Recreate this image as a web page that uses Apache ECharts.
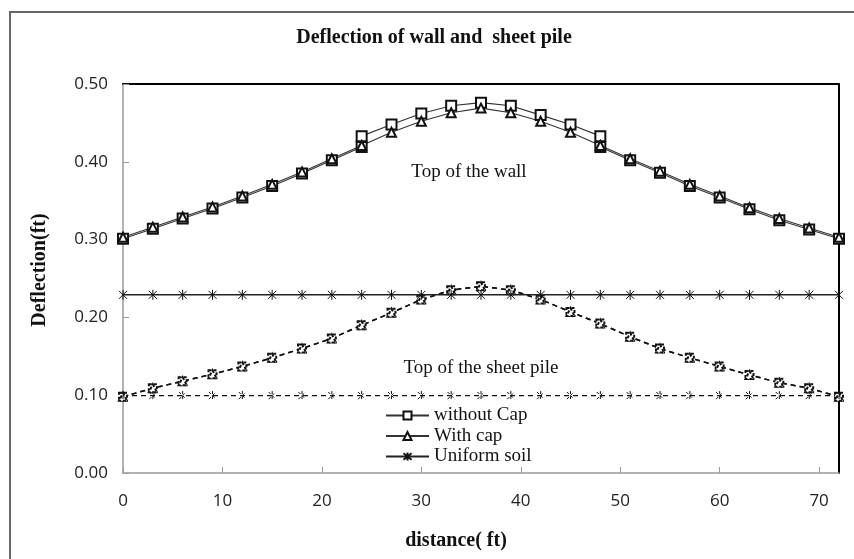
<!DOCTYPE html>
<html>
<head>
<meta charset="utf-8">
<script src="https://cdn.jsdelivr.net/npm/echarts@6/dist/echarts.min.js"></script>
<style>
  html, body { margin: 0; padding: 0; background: #fff; }
  #chart { width: 854px; height: 559px; }
</style>
</head>
<body>
<div id="chart"></div>
<script>
// Distance along the wall (ft)
const distance = [0, 3, 6, 9, 12, 15, 18, 21, 24, 27, 30, 33, 36, 39, 42, 45, 48, 51, 54, 57, 60, 63, 66, 69, 72];

// Top of the wall, without cap (two readings at 24 ft and 48 ft)
const wallNoCapDistance = [0, 3, 6, 9, 12, 15, 18, 21, 24, 24, 27, 30, 33, 36, 39, 42, 45, 48, 48, 51, 54, 57, 60, 63, 66, 69, 72];
const wallNoCap = [0.301, 0.314, 0.327, 0.340, 0.354, 0.369, 0.385, 0.402, 0.419, 0.433, 0.448, 0.462, 0.472, 0.476, 0.472, 0.460, 0.448, 0.433, 0.419, 0.402, 0.386, 0.369, 0.354, 0.339, 0.325, 0.313, 0.301];

// Top of the wall, with cap
const wallWithCap = [0.303, 0.316, 0.329, 0.342, 0.356, 0.371, 0.387, 0.404, 0.421, 0.438, 0.452, 0.463, 0.469, 0.463, 0.452, 0.438, 0.421, 0.404, 0.388, 0.371, 0.356, 0.341, 0.327, 0.315, 0.303];

// Top of the wall, uniform soil
const wallUniform = [0.229, 0.229, 0.229, 0.229, 0.229, 0.229, 0.229, 0.229, 0.229, 0.229, 0.229, 0.229, 0.229, 0.229, 0.229, 0.229, 0.229, 0.229, 0.229, 0.229, 0.229, 0.229, 0.229, 0.229, 0.229];

// Top of the sheet pile
const pileNoCap = [0.098, 0.109, 0.118, 0.127, 0.137, 0.148, 0.160, 0.173, 0.190, 0.206, 0.223, 0.235, 0.240, 0.235, 0.223, 0.207, 0.192, 0.175, 0.160, 0.148, 0.137, 0.126, 0.116, 0.109, 0.098];
const pileWithCap = [0.098, 0.109, 0.118, 0.127, 0.137, 0.148, 0.160, 0.173, 0.190, 0.206, 0.223, 0.235, 0.240, 0.235, 0.223, 0.207, 0.192, 0.175, 0.160, 0.148, 0.137, 0.126, 0.116, 0.109, 0.098];
const pileUniform = [0.0995, 0.0995, 0.0995, 0.0995, 0.0995, 0.0995, 0.0995, 0.0995, 0.0995, 0.0995, 0.0995, 0.0995, 0.0995, 0.0995, 0.0995, 0.0995, 0.0995, 0.0995, 0.0995, 0.0995, 0.0995, 0.0995, 0.0995, 0.0995, 0.0995];

const legendNames = ['without Cap', 'With cap', 'Uniform soil'];
const yTicks = { min: 0, max: 0.5, interval: 0.1 };
const xTicks = { min: 0, max: 72, interval: 10 };

const pairs = (xs, ys) => xs.map((x, i) => [x, ys[i]]);

const SERIF = '"Liberation Serif", "Times New Roman", serif';
const SANS = '"Open Sans", "DejaVu Sans", sans-serif';
const STAR = 'path://M5,0 L5,10 M1,1 L9,9 M1,9 L9,1';

function solid(name, data, symbol, size, color, width) {
  return {
    name, type: 'line', data, symbol, symbolSize: size, symbolKeepAspect: true,
    showSymbol: true, silent: true,
    lineStyle: { color, width, type: 'solid' },
    itemStyle: { color: '#111', borderColor: '#111', borderWidth: 1 },
    z: 3
  };
}
function dashed(name, data, symbol, size, width) {
  return {
    name, type: 'line', data, symbol, symbolSize: size, symbolKeepAspect: true,
    showSymbol: true, silent: true,
    lineStyle: { color: '#111', width, type: [5, 4] },
    itemStyle: { color: '#111', borderColor: '#111', borderWidth: 1, borderType: [3, 2] },
    z: 2
  };
}

const chart = echarts.init(document.getElementById('chart'), null, { renderer: 'canvas' });

const option = {
  animation: false,
  backgroundColor: '#fff',
  grid: { left: 123, top: 84, width: 716, height: 389, containLabel: false },
  xAxis: [{
    type: 'value', min: xTicks.min, max: xTicks.max, interval: xTicks.interval,
    axisLine: { show: true, onZero: false, lineStyle: { color: '#9a9a9a', width: 1.5 } },
    axisTick: { show: true, inside: true, length: 6, lineStyle: { color: '#9a9a9a' } },
    axisLabel: { show: true, showMaxLabel: false, margin: 20, color: '#222', fontFamily: SANS, fontSize: 17 },
    splitLine: { show: false }
  }, {
    type: 'value', position: 'top', min: xTicks.min, max: xTicks.max,
    axisLine: { show: true, onZero: false, lineStyle: { color: '#000', width: 2 } },
    axisTick: { show: false }, axisLabel: { show: false }, splitLine: { show: false }
  }],
  yAxis: [{
    type: 'value', min: yTicks.min, max: yTicks.max, interval: yTicks.interval,
    axisLine: { show: true, onZero: false, lineStyle: { color: '#9a9a9a', width: 1.5 } },
    axisTick: { show: true, inside: true, length: 6, lineStyle: { color: '#9a9a9a' } },
    axisLabel: { show: true, margin: 15, color: '#222', fontFamily: SANS, fontSize: 17,
      formatter: v => v.toFixed(2) },
    splitLine: { show: false }
  }, {
    type: 'value', position: 'right', min: yTicks.min, max: yTicks.max,
    axisLine: { show: true, onZero: false, lineStyle: { color: '#000', width: 2 } },
    axisTick: { show: false }, axisLabel: { show: false }, splitLine: { show: false }
  }],
  legend: {
    data: legendNames,
    orient: 'vertical', left: 385, top: 406, padding: 0,
    itemWidth: 43, itemHeight: 10, itemGap: 1.5,
    selectedMode: false,
    textStyle: { fontFamily: SERIF, fontSize: 19, color: '#111', lineHeight: 19 }
  },
  series: [
    solid(legendNames[0], pairs(wallNoCapDistance, wallNoCap), 'emptyRect', 10, '#333', 1.1),
    solid(legendNames[1], pairs(distance, wallWithCap), 'emptyTriangle', 9, '#333', 1.1),
    solid(legendNames[2], pairs(distance, wallUniform), STAR, 10, '#222', 1.5),
    dashed(legendNames[0], pairs(distance, pileNoCap), 'emptyRect', 8, 1.5),
    dashed(legendNames[1], pairs(distance, pileWithCap), 'emptyTriangle', 8, 1.5),
    dashed(legendNames[2], pairs(distance, pileUniform), STAR, 9, 1.2)
  ],
  graphic: [
    { type: 'rect', silent: true, shape: { x: 10, y: 12, width: 900, height: 600 },
      style: { fill: 'none', stroke: '#666', lineWidth: 2 }, z: -10 },
    { type: 'text', silent: true, x: 434, y: 38,
      style: { text: 'Deflection of wall and  sheet pile', font: 'bold 20px ' + SERIF, fill: '#111',
        textAlign: 'center', textVerticalAlign: 'middle' } },
    { type: 'text', silent: true, x: 40, y: 270, rotation: Math.PI / 2,
      style: { text: 'Deflection(ft)', font: 'bold 20px ' + SERIF, fill: '#111',
        textAlign: 'center', textVerticalAlign: 'middle' } },
    { type: 'text', silent: true, x: 456, y: 541,
      style: { text: 'distance( ft)', font: 'bold 20px ' + SERIF, fill: '#111',
        textAlign: 'center', textVerticalAlign: 'middle' } },
    { type: 'text', silent: true, x: 469, y: 172,
      style: { text: 'Top of the wall', font: '19px ' + SERIF, fill: '#111',
        textAlign: 'center', textVerticalAlign: 'middle' } },
    { type: 'text', silent: true, x: 481, y: 368,
      style: { text: 'Top of the sheet pile', font: '19px ' + SERIF, fill: '#111',
        textAlign: 'center', textVerticalAlign: 'middle' } }
  ]
};

chart.setOption(option);
</script>
</body>
</html>
